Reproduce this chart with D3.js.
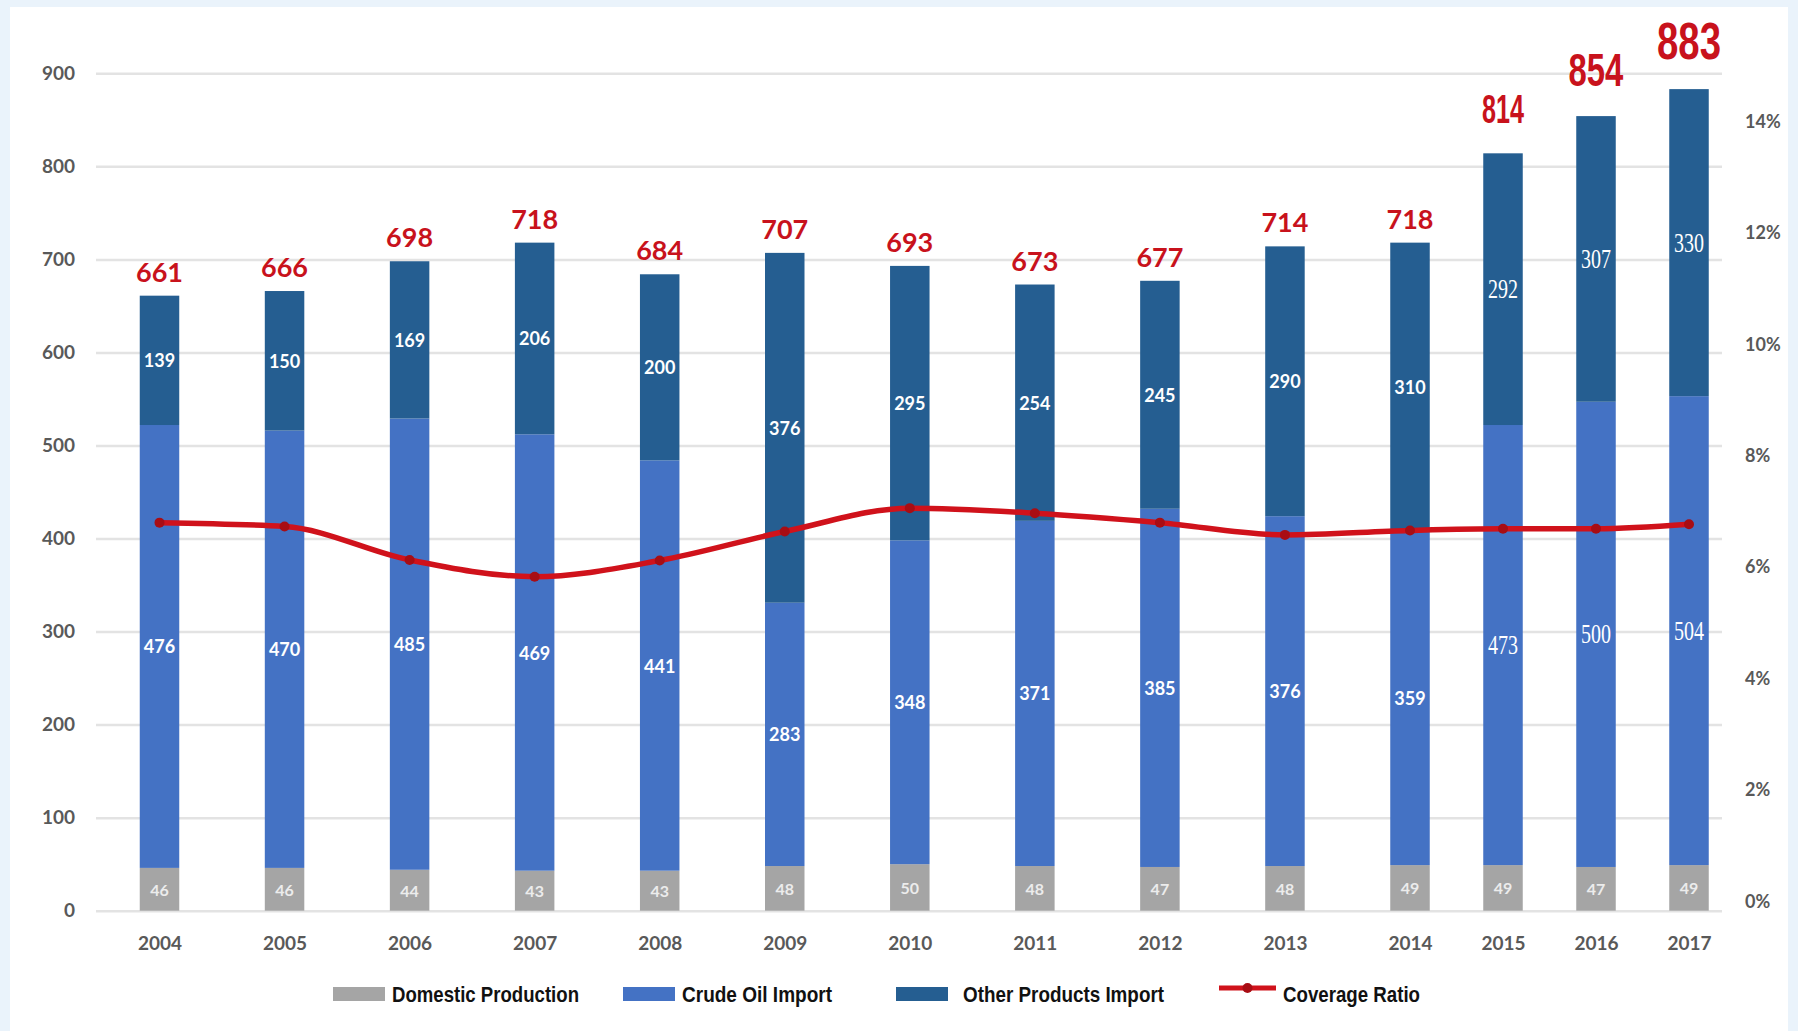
<!DOCTYPE html>
<html>

<head>
    <meta charset="utf-8">
    <style>
        body {
            margin: 0;
            background-color: #eaf3fb;
        }

        svg {
            display: block;
        }

        .tick text {
            font-family: Lato, "Open Sans", sans-serif;
            font-weight: 700;
            fill: #595959;
        }

        .total {
            font-family: Lato, "Open Sans", sans-serif;
            font-weight: 700;
            fill: #c8121c;
            text-anchor: middle;
        }

        .total.narrow {
            font-family: "Liberation Sans", Arial, sans-serif;
            font-weight: 700;
        }

        .inner {
            font-family: Lato, "Open Sans", sans-serif;
            font-weight: 700;
            fill: #ffffff;
            text-anchor: middle;
            dominant-baseline: central;
        }

        .inner.narrow {
            font-family: "Liberation Serif", serif;
            font-weight: 400;
        }

        .legend text {
            font-family: "Liberation Sans", Arial, sans-serif;
            font-weight: 700;
            font-size: 22px;
            fill: #111;
            dominant-baseline: central;
        }
    </style>
</head>

<body>
    <div id="chart"></div>

    <script src="https://d3js.org/d3.v7.min.js"></script>
    <script>
        var years = [2004, 2005, 2006, 2007, 2008, 2009, 2010, 2011, 2012, 2013, 2014, 2015, 2016, 2017];
        var domestic = [46, 46, 44, 43, 43, 48, 50, 48, 47, 48, 49, 49, 47, 49];
        var crude = [476, 470, 485, 469, 441, 283, 348, 371, 385, 376, 359, 473, 500, 504];
        var other = [139, 150, 169, 206, 200, 376, 295, 254, 245, 290, 310, 292, 307, 330];
        var coverage = [0.0680, 0.0673, 0.0613, 0.0583, 0.0612, 0.0664, 0.0706, 0.0697, 0.0680, 0.0658, 0.0666, 0.0669, 0.0669, 0.0677];
        var leftTicks = [0, 100, 200, 300, 400, 500, 600, 700, 800, 900];
        var rightTicks = [0, 0.02, 0.04, 0.06, 0.08, 0.10, 0.12, 0.14];
        var seriesNames = ["Domestic Production", "Crude Oil Import", "Other Products Import", "Coverage Ratio"];

        var W = 1798, H = 1031;
        var colors = { domestic: "#a5a5a5", crude: "#4472c4", other: "#255e91", line: "#d0121b" };

        var table = years.map(function (yr, i) {
            return { year: yr, domestic: domestic[i], crude: crude[i], other: other[i], ratio: coverage[i] };
        });

        var svg = d3.select("#chart").append("svg")
            .attr("width", W)
            .attr("height", H);

        // slide background and white chart panel
        svg.append("rect").attr("width", W).attr("height", H).attr("fill", "#eaf3fb");
        svg.append("rect").attr("x", 10).attr("y", 7).attr("width", W - 20).attr("height", H - 7).attr("fill", "#ffffff");

        // the last three years sit closer together in the original
        var x = d3.scaleLinear().domain([2004, 2014, 2017]).range([159.5, 1410, 1689]);
        var y = d3.scaleLinear().domain([0, 900]).range([910.7, 73.3]);
        var yR = d3.scaleLinear().domain([0, 0.14]).range([901.5, 121.5]);
        var barW = 39.5;

        // left axis + gridlines
        var gridLeft = 96, gridRight = 1722;
        svg.append("g")
            .attr("transform", "translate(" + gridLeft + ",0)")
            .call(d3.axisLeft(y).tickValues(leftTicks).tickSize(-(gridRight - gridLeft)).tickPadding(21))
            .call(function (g) {
                g.select(".domain").remove();
                g.selectAll(".tick line").attr("stroke", "#e3e3e3").attr("stroke-width", 2.5);
                g.selectAll(".tick text").style("font-size", "19px");
            });

        // right axis
        svg.append("g")
            .attr("transform", "translate(1745,0)")
            .call(d3.axisRight(yR).tickValues(rightTicks).tickFormat(d3.format(".0%")).tickSize(0).tickPadding(0))
            .call(function (g) {
                g.select(".domain").remove();
                g.selectAll(".tick text").style("font-size", "18px").attr("text-anchor", "start");
            });

        // x axis
        svg.append("g")
            .attr("transform", "translate(0,936)")
            .call(d3.axisBottom(x).tickValues(years).tickFormat(d3.format("d")).tickSize(0).tickPadding(0))
            .call(function (g) {
                g.select(".domain").remove();
                g.selectAll(".tick text").style("font-size", "19px");
            });

        // stacked bars
        var keys = ["domestic", "crude", "other"];
        var stacked = d3.stack().keys(keys)(table);

        var layers = svg.append("g").selectAll("g")
            .data(stacked)
            .join("g")
            .attr("fill", function (d) { return colors[d.key]; });

        layers.selectAll("rect")
            .data(function (d) { return d; })
            .join("rect")
            .attr("x", function (d) { return x(d.data.year) - barW / 2; })
            .attr("y", function (d) { return y(d[1]); })
            .attr("width", barW)
            .attr("height", function (d) { return y(d[0]) - y(d[1]); });

        // segment labels (the last three years use a squeezed serif face)
        layers.each(function (layer) {
            d3.select(this).selectAll("text")
                .data(layer)
                .join("text")
                .attr("class", function (d) { return d.data.year >= 2015 && layer.key !== "domestic" ? "inner narrow" : "inner"; })
                .attr("x", function (d) { return x(d.data.year); })
                .attr("y", function (d) { return (y(d[0]) + y(d[1])) / 2; })
                .style("font-size", function (d) {
                    if (layer.key === "domestic") return "16px";
                    return d.data.year >= 2015 ? "27px" : "18px";
                })
                .style("fill", layer.key === "domestic" ? "#ececec" : "#ffffff")
                .each(function (d) {
                    if (d.data.year >= 2015 && layer.key !== "domestic") {
                        d3.select(this).attr("textLength", 30).attr("lengthAdjust", "spacingAndGlyphs");
                    }
                })
                .text(function (d) { return d.data[layer.key]; });
        });

        // totals above bars
        var bigSize = d3.scaleLinear().domain([814, 883]).range([40, 52]);
        var bigWidth = d3.scaleLinear().domain([814, 883]).range([42, 64]);
        svg.append("g").selectAll("text")
            .data(table)
            .join("text")
            .attr("class", function (d) { return d.year >= 2015 ? "total narrow" : "total"; })
            .attr("x", function (d) { return x(d.year); })
            .attr("y", function (d) {
                var t = d.domestic + d.crude + d.other;
                return y(t) - (d.year >= 2015 ? 30 : 14);
            })
            .style("font-size", function (d) {
                var t = d.domestic + d.crude + d.other;
                return d.year >= 2015 ? bigSize(t) + "px" : "27px";
            })
            .each(function (d) {
                if (d.year >= 2015) {
                    var t = d.domestic + d.crude + d.other;
                    d3.select(this).attr("textLength", bigWidth(t)).attr("lengthAdjust", "spacingAndGlyphs");
                }
            })
            .text(function (d) { return d.domestic + d.crude + d.other; });

        // coverage ratio line
        var line = d3.line()
            .x(function (d) { return x(d.year); })
            .y(function (d) { return yR(d.ratio); })
            .curve(d3.curveMonotoneX);

        svg.append("path")
            .datum(table)
            .attr("fill", "none")
            .attr("stroke", colors.line)
            .attr("stroke-width", 5.5)
            .attr("d", line);

        svg.append("g").selectAll("circle")
            .data(table)
            .join("circle")
            .attr("cx", function (d) { return x(d.year); })
            .attr("cy", function (d) { return yR(d.ratio); })
            .attr("r", 5)
            .attr("fill", "#a80d14");

        // legend
        var legend = svg.append("g").attr("class", "legend");
        var legendY = 994;
        var items = [
            { name: seriesNames[0], sx: 333, sw: 52, tx: 392, tw: 187, color: colors.domestic, type: "rect" },
            { name: seriesNames[1], sx: 623, sw: 52, tx: 682, tw: 150, color: colors.crude, type: "rect" },
            { name: seriesNames[2], sx: 896, sw: 52, tx: 963, tw: 201, color: colors.other, type: "rect" },
            { name: seriesNames[3], sx: 1219, sw: 57, tx: 1283, tw: 137, color: colors.line, type: "line" }
        ];
        items.forEach(function (it) {
            if (it.type === "rect") {
                legend.append("rect")
                    .attr("x", it.sx).attr("y", legendY - 7)
                    .attr("width", it.sw).attr("height", 14)
                    .attr("fill", it.color);
            } else {
                legend.append("line")
                    .attr("x1", it.sx).attr("x2", it.sx + it.sw)
                    .attr("y1", legendY - 6).attr("y2", legendY - 6)
                    .attr("stroke", it.color).attr("stroke-width", 5);
                legend.append("circle")
                    .attr("cx", it.sx + it.sw / 2).attr("cy", legendY - 6).attr("r", 5)
                    .attr("fill", "#a80d14");
            }
            legend.append("text")
                .attr("x", it.tx).attr("y", legendY)
                .attr("textLength", it.tw)
                .attr("lengthAdjust", "spacingAndGlyphs")
                .text(it.name);
        });
    </script>
</body>

</html>
